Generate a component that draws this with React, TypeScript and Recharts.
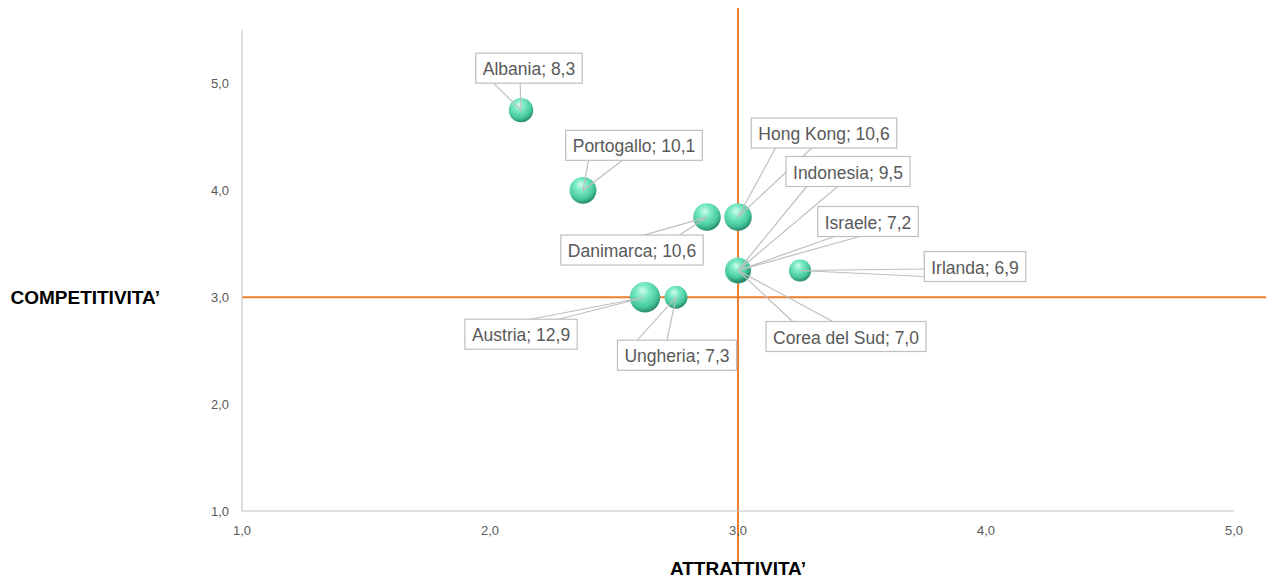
import React from "react";
import {
  ScatterChart,
  Scatter,
  XAxis,
  YAxis,
  ZAxis,
  ReferenceLine,
  LabelList,
  Label,
} from "recharts";

// values
const countries = [
  "Albania",
  "Portogallo",
  "Danimarca",
  "Hong Kong",
  "Indonesia",
  "Israele",
  "Irlanda",
  "Austria",
  "Ungheria",
  "Corea del Sud",
];
const attrattivita = [2.125, 2.375, 2.875, 3.0, 3.0, 3.0, 3.25, 2.625, 2.75, 3.0];
const competitivita = [4.75, 4.0, 3.75, 3.75, 3.25, 3.25, 3.25, 3.0, 3.0, 3.25];
const dimensione = [8.3, 10.1, 10.6, 10.6, 9.5, 7.2, 6.9, 12.9, 7.3, 7.0];

const xTicks = [1, 2, 3, 4, 5];
const yTicks = [1, 2, 3, 4, 5];

// where each callout box sits, relative to its bubble (px)
const labelOffsets: [number, number][] = [
  [8, -42],
  [51, -45],
  [-75, 33],
  [86, -84],
  [110, -99],
  [130, -49],
  [175, -4],
  [-124, 37],
  [1, 58],
  [108, 66],
];

const data = countries.map((name, i) => ({
  name,
  x: attrattivita[i],
  y: competitivita[i],
  z: dimensione[i],
}));

const fmt = (v: number) => v.toFixed(1).replace(".", ",");

const LABEL_FONT = "17.5px 'Liberation Sans'";
let ctx: CanvasRenderingContext2D | null = null;
const textWidth = (s: string) => {
  if (!ctx) ctx = document.createElement("canvas").getContext("2d");
  if (!ctx) return s.length * 8.5;
  ctx.font = LABEL_FONT;
  return ctx.measureText(s).width;
};

const Ball = (props: any) => {
  const { cx, cy, width, size } = props;
  const r = width ? width / 2 : Math.sqrt(size / Math.PI);
  return <circle cx={cx} cy={cy} r={r} fill="url(#ball)" />;
};

const Callout = (props: any) => {
  const { x, y, width, height, value } = props;
  const i = countries.indexOf(value);
  if (i < 0) return null;
  const px = x + width / 2;
  const py = y + height / 2;
  const [dx, dy] = labelOffsets[i];
  const text = `${countries[i]}; ${fmt(dimensione[i])}`;
  const w = textWidth(text) + 14;
  const h = 30;
  const cx = px + dx;
  const cy = py + dy;
  const bx = cx - w / 2;
  const by = cy - h / 2;
  const ddx = px - cx;
  const ddy = py - cy;
  let b1: number[];
  let b2: number[];
  if (Math.abs(ddx) / w > Math.abs(ddy) / h) {
    const ex = ddx < 0 ? bx : bx + w;
    const f = ddy < 0 ? [2 / 12, 5 / 12] : [7 / 12, 10 / 12];
    b1 = [ex, by + h * f[0]];
    b2 = [ex, by + h * f[1]];
  } else {
    const ey = ddy < 0 ? by : by + h;
    const f = ddx < 0 ? [2 / 12, 5 / 12] : [7 / 12, 10 / 12];
    b1 = [bx + w * f[0], ey];
    b2 = [bx + w * f[1], ey];
  }
  return (
    <g>
      <polyline
        points={`${b1[0]},${b1[1]} ${px},${py} ${b2[0]},${b2[1]}`}
        fill="none"
        stroke="#BFBFBF"
        strokeWidth={1.2}
      />
      <rect x={bx} y={by} width={w} height={h} fill="#fff" stroke="#BFBFBF" strokeWidth={1.2} />
      <text
        x={cx}
        y={cy + 1}
        textAnchor="middle"
        dominantBaseline="central"
        fill="#595959"
        style={{ font: LABEL_FONT }}
      >
        {text}
      </text>
    </g>
  );
};

const App = () => {
  return (
    <div style={{ fontFamily: "'Liberation Sans', Arial, sans-serif" }}>
      <ScatterChart
        width={1266}
        height={577}
        margin={{ top: 22, right: 40, bottom: 34, left: 0 }}
      >
        <defs>
          <radialGradient id="ball" cx="42%" cy="35%" r="70%" fx="42%" fy="28%">
            <stop offset="0%" stopColor="#D2FCEE" />
            <stop offset="30%" stopColor="#7CEBC8" />
            <stop offset="70%" stopColor="#48C9A0" />
            <stop offset="100%" stopColor="#1E7A5E" />
          </radialGradient>
        </defs>
        <XAxis
          type="number"
          dataKey="x"
          domain={[1, 5]}
          ticks={xTicks}
          tickFormatter={fmt}
          tickLine={false}
          tickSize={6}
          tickMargin={9}
          height={40}
          axisLine={{ stroke: "#BFBFBF" }}
          tick={{ fill: "#595959", fontSize: 13 }}
        >
          <Label
            value="ATTRATTIVITA’"
            position="bottom"
            offset={11}
            style={{ fill: "#000", fontWeight: 700, fontSize: 19 }}
          />
        </XAxis>
        <YAxis
          type="number"
          dataKey="y"
          domain={[1, 5.5]}
          ticks={yTicks}
          tickFormatter={fmt}
          tickLine={false}
          tickSize={6}
          tickMargin={7}
          width={234}
          axisLine={{ stroke: "#BFBFBF" }}
          tick={{ fill: "#595959", fontSize: 13 }}
        />
        <ZAxis type="number" dataKey="z" domain={[0, 13]} range={[0, 730]} />
        <ReferenceLine
          segment={[
            { x: 3, y: 0.495 },
            { x: 3, y: 5.705 },
          ]}
          stroke="#ED7D31"
          strokeWidth={2}
          ifOverflow="visible"
        />
        <ReferenceLine
          segment={[
            { x: 1, y: 3 },
            { x: 5.161, y: 3 },
          ]}
          stroke="#ED7D31"
          strokeWidth={2}
          ifOverflow="visible"
        >
          <Label
            value="COMPETITIVITA’"
            position="left"
            offset={82}
            style={{ fill: "#000", fontWeight: 700, fontSize: 19 }}
          />
        </ReferenceLine>
        <Scatter data={data} shape={Ball} isAnimationActive={false}>
          <LabelList dataKey="name" content={Callout} />
        </Scatter>
      </ScatterChart>
    </div>
  );
};

export default App;
